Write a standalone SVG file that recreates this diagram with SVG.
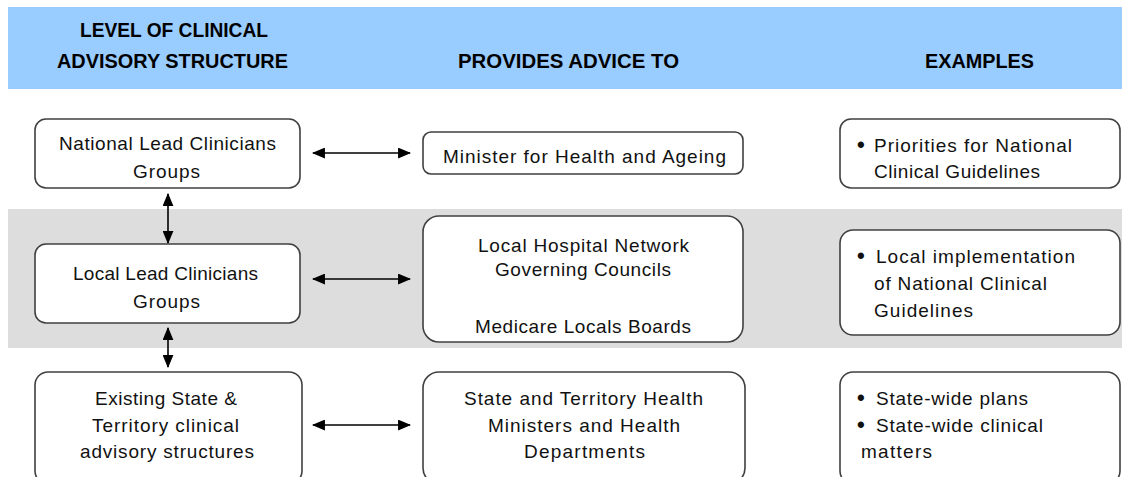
<svg xmlns="http://www.w3.org/2000/svg" width="1122" height="477" viewBox="0 0 1122 477">
<style>
.hdr{font-family:"Liberation Sans",Arial,sans-serif;font-weight:bold;font-size:20px;fill:#000}
.t{font-family:"Liberation Sans",Arial,sans-serif;font-size:19px;fill:#111}
.b{font-family:"Liberation Sans",Arial,sans-serif;font-size:22px;font-weight:bold;fill:#111}
.box{fill:#fff;stroke:#404040;stroke-width:1.6}
.arr{stroke:#000;stroke-width:1.6;fill:none;marker-start:url(#ah);marker-end:url(#ah)}
</style>
<defs>
<marker id="ah" viewBox="0 0 12 10" refX="11" refY="5" markerWidth="13" markerHeight="11" markerUnits="userSpaceOnUse" orient="auto-start-reverse">
<path d="M0,0 L12,5 L0,10 z" fill="#000"/>
</marker>
</defs>
<rect width="1122" height="477" fill="#fff"/>
<rect x="8" y="7" width="1114" height="82" fill="#99ccff"/>
<rect x="8" y="209" width="1114" height="139" fill="#dddddd"/>
<g id="headers">
<text class="hdr" x="80" y="37" textLength="188" lengthAdjust="spacingAndGlyphs">LEVEL OF CLINICAL</text>
<text class="hdr" x="57" y="68" textLength="231" lengthAdjust="spacingAndGlyphs">ADVISORY STRUCTURE</text>
<text class="hdr" x="458" y="68" textLength="221" lengthAdjust="spacingAndGlyphs">PROVIDES ADVICE TO</text>
<text class="hdr" x="925" y="68" textLength="109" lengthAdjust="spacingAndGlyphs">EXAMPLES</text>
</g>
<g id="connectors">
<line class="arr" x1="313" y1="153" x2="410" y2="153"/>
<line class="arr" x1="313" y1="279" x2="410" y2="279"/>
<line class="arr" x1="313" y1="425" x2="410" y2="425"/>
<line class="arr" x1="168" y1="194" x2="168" y2="243"/>
<line class="arr" x1="168" y1="328" x2="168" y2="367"/>
</g>
<g id="national-lead">
<rect class="box" x="35" y="119" width="265" height="69" rx="11"/>
<text class="t" x="59" y="150" textLength="217">National Lead Clinicians</text>
<text class="t" x="133" y="178" textLength="67">Groups</text>
</g>
<g id="local-lead">
<rect class="box" x="35" y="244" width="265" height="79" rx="11"/>
<text class="t" x="73" y="280" textLength="185">Local Lead Clinicians</text>
<text class="t" x="133" y="308" textLength="67">Groups</text>
</g>
<g id="existing-state">
<rect class="box" x="35" y="372" width="267" height="112" rx="13"/>
<text class="t" x="95" y="405" textLength="142">Existing State &amp;</text>
<text class="t" x="92" y="432" textLength="147">Territory clinical</text>
<text class="t" x="80" y="458" textLength="174">advisory structures</text>
</g>
<g id="minister">
<rect class="box" x="423" y="132" width="320" height="42" rx="8"/>
<text class="t" x="443" y="163" textLength="283">Minister for Health and Ageing</text>
</g>
<g id="lhn">
<rect class="box" x="423" y="216" width="320" height="126" rx="16"/>
<text class="t" x="478" y="252" textLength="211">Local Hospital Network</text>
<text class="t" x="495" y="276" textLength="176">Governing Councils</text>
<text class="t" x="475" y="333" textLength="216">Medicare Locals Boards</text>
</g>
<g id="state-ministers">
<rect class="box" x="423" y="372" width="322" height="112" rx="16"/>
<text class="t" x="464" y="405" textLength="239">State and Territory Health</text>
<text class="t" x="488" y="432" textLength="192">Ministers and Health</text>
<text class="t" x="524" y="458" textLength="121">Departments</text>
</g>
<g id="ex-national">
<rect class="box" x="840" y="119" width="280" height="69" rx="11"/>
<text class="b" x="857" y="152">•</text>
<text class="t" x="874" y="152" textLength="198">Priorities for National</text>
<text class="t" x="874" y="178" textLength="166">Clinical Guidelines</text>
</g>
<g id="ex-local">
<rect class="box" x="840" y="230" width="280" height="105" rx="13"/>
<text class="b" x="857" y="263">•</text>
<text class="t" x="876" y="263" textLength="199">Local implementation</text>
<text class="t" x="874" y="290" textLength="173">of National Clinical</text>
<text class="t" x="874" y="317" textLength="99">Guidelines</text>
</g>
<g id="ex-state">
<rect class="box" x="840" y="372" width="280" height="112" rx="13"/>
<text class="b" x="857" y="405">•</text>
<text class="t" x="876" y="405" textLength="152">State-wide plans</text>
<text class="b" x="857" y="432">•</text>
<text class="t" x="876" y="432" textLength="167">State-wide clinical</text>
<text class="t" x="861" y="458" textLength="71">matters</text>
</g>
</svg>
